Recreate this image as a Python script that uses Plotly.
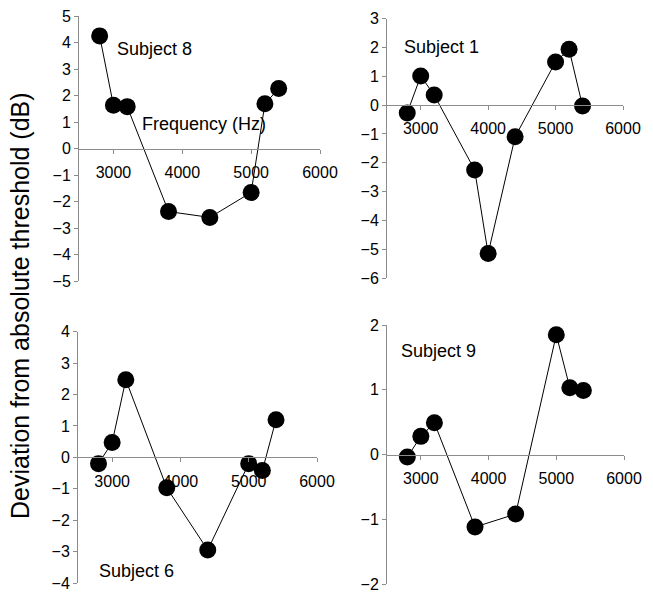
import plotly.graph_objects as go

W, H = 653, 593

freq8 = [2800, 3000, 3200, 3800, 4400, 5000, 5200, 5400]
dev8 = [4.25, 1.63, 1.58, -2.38, -2.6, -1.66, 1.69, 2.26]

freq1 = [2800, 3000, 3200, 3800, 4000, 4400, 5000, 5200, 5400]
dev1 = [-0.27, 1.01, 0.35, -2.25, -5.15, -1.1, 1.5, 1.94, -0.03]

freq6 = [2800, 3000, 3200, 3800, 4400, 5000, 5200, 5400]
dev6 = [-0.2, 0.47, 2.47, -0.97, -2.95, -0.2, -0.42, 1.2]

freq9 = [2800, 3000, 3200, 3800, 4400, 5000, 5200, 5400]
dev9 = [-0.04, 0.28, 0.49, -1.12, -0.92, 1.85, 1.03, 0.99]

x_ticks = [3000, 4000, 5000, 6000]
x_range = [2500, 6000]

panels = [
    # name, freqs, devs, y range, y dtick, x px domain, y px (top,bottom), label px pos
    ("Subject 8", freq8, dev8, [-5, 5], 1, (79, 320), (16, 281), (115, 49)),
    ("Subject 1", freq1, dev1, [-6, 3], 1, (387, 623), (18.7, 278), (402, 47)),
    ("Subject 6", freq6, dev6, [-4, 4], 1, (78, 317), (331.7, 583), (97, 571)),
    ("Subject 9", freq9, dev9, [-2, 2], 1, (387, 624), (325, 584), (399, 351)),
]

FONT = "Liberation Sans, Arial, sans-serif"
AXC = "#8c8c8c"

fig = go.Figure()
layout = dict(
    width=W, height=H,
    margin=dict(l=0, r=0, t=0, b=0, pad=0),
    paper_bgcolor="white", plot_bgcolor="white",
    showlegend=False,
    font=dict(family=FONT, color="black", size=16),
)
annotations = []

for i, (name, fx, dy, yr, dt, xpx, ypx, lab) in enumerate(panels, start=1):
    xa = "x" if i == 1 else f"x{i}"
    ya = "y" if i == 1 else f"y{i}"
    fig.add_trace(go.Scatter(
        x=fx, y=dy, mode="lines+markers", xaxis=xa, yaxis=ya,
        line=dict(color="black", width=1),
        marker=dict(color="black", size=17),
        cliponaxis=False, hoverinfo="skip",
    ))
    xd = [xpx[0] / W, xpx[1] / W]
    yd = [1 - ypx[1] / H, 1 - ypx[0] / H]
    zero_pos = yd[0] + (0 - yr[0]) / (yr[1] - yr[0]) * (yd[1] - yd[0])
    xkey = "xaxis" if i == 1 else f"xaxis{i}"
    ykey = "yaxis" if i == 1 else f"yaxis{i}"
    layout[xkey] = dict(
        domain=xd, range=x_range, anchor="free", position=zero_pos,
        tickvals=x_ticks, ticktext=[str(t) for t in x_ticks],
        showline=True, linecolor=AXC, linewidth=1,
        ticks="outside", ticklen=4, tickcolor=AXC,
        showgrid=False, zeroline=False, automargin=False,
        ticklabeloverflow="allow",
        tickfont=dict(family=FONT, size=16, color="black"),
        ticklabelstandoff=5,
    )
    layout[ykey] = dict(
        domain=yd, range=yr, anchor=xa, dtick=dt, tick0=0,
        showline=True, linecolor=AXC, linewidth=1,
        ticks="outside", ticklen=4, tickcolor=AXC,
        showgrid=False, zeroline=False, automargin=False,
        ticklabeloverflow="allow",
        tickfont=dict(family=FONT, size=16, color="black"),
    )
    annotations.append(dict(
        text=name, x=lab[0] / W, y=1 - lab[1] / H, xref="paper", yref="paper",
        xanchor="left", yanchor="middle", showarrow=False,
        font=dict(family=FONT, size=18, color="black"),
    ))

annotations.append(dict(
    text="Frequency (Hz)", x=140 / W, y=1 - 124 / H, xref="paper", yref="paper",
    xanchor="left", yanchor="middle", showarrow=False,
    font=dict(family=FONT, size=18, color="black"),
))
annotations.append(dict(
    text="Deviation from absolute threshold (dB)", x=20 / W, y=1 - 306 / H,
    xref="paper", yref="paper", xanchor="center", yanchor="middle",
    textangle=-90, showarrow=False,
    font=dict(family=FONT, size=25, color="black"),
))
layout["annotations"] = annotations
fig.update_layout(**layout)
fig.write_html(
    "out.html",
    config={"displayModeBar": False},
    post_script="document.body.style.margin='0';document.body.style.overflow='hidden';",
)
